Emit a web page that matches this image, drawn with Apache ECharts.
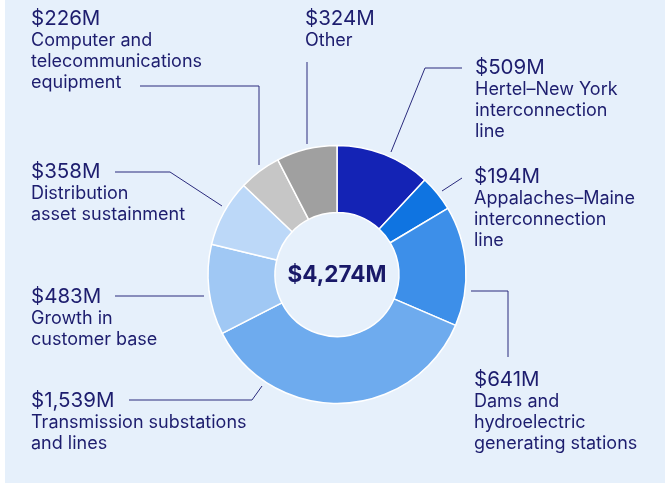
<!DOCTYPE html>
<html>
<head>
<meta charset="utf-8">
<script src="https://cdn.jsdelivr.net/npm/echarts@6/dist/echarts.min.js"></script>
<style>
  html, body { margin: 0; padding: 0; background: #fff; }
  .wrap { position: relative; width: 665px; height: 485px; }
  .panel { position: absolute; left: 5px; top: 0; width: 660px; height: 483px; background: #e6f0fb; }
  #chart { position: absolute; left: 0; top: 0; width: 665px; height: 485px; }
</style>
</head>
<body>
<div class="wrap">
  <div class="panel"></div>
  <div id="chart"></div>
</div>
<script>
// data, clockwise from 12 o'clock
const categories = [
  'Hertel–New York\ninterconnection\nline',
  'Appalaches–Maine\ninterconnection\nline',
  'Dams and\nhydroelectric\ngenerating stations',
  'Transmission substations\nand lines',
  'Growth in\ncustomer base',
  'Distribution\nasset sustainment',
  'Computer and\ntelecommunications\nequipment',
  'Other'
];
const values = [509, 194, 641, 1539, 483, 358, 226, 324];
const colors = ['#1423b5', '#0f74e1', '#3d8fe9', '#6eabee', '#a0c8f4', '#bcd8f8', '#c6c6c6', '#a0a0a0'];

// label block top-left corners
const labelPos = [
  [475, 57], [474, 166], [474, 369], [31, 390],
  [31, 286], [31, 161], [31, 8], [305, 8]
];
// leader lines
const leaderLines = [
  [[391, 152], [425, 68], [462, 68]],
  [[442, 191], [462, 178]],
  [[471, 291], [508, 291], [508, 357]],
  [[262, 386], [252, 400], [129, 400]],
  [[204, 296], [115, 296]],
  [[222, 206], [170, 172], [115, 172]],
  [[259, 165], [259, 86], [140, 86]],
  [[307, 144], [307, 62]]
];

const textColor = '#1d1d6e';
const fmt = v => '$' + v.toLocaleString('en-US') + 'M';
const total = values.reduce((a, b) => a + b, 0);

const chart = echarts.init(document.getElementById('chart'));
const option = {
  animation: false,
  textStyle: { fontFamily: 'Inter' },
  graphic: [{
    type: 'text',
    x: 337,
    y: 275,
    style: {
      text: fmt(total),
      fontFamily: 'Inter',
      fontSize: 22.5,
      fontWeight: 'bold',
      fill: '#191968',
      align: 'center',
      verticalAlign: 'middle'
    }
  }],
  series: [{
    type: 'pie',
    center: [337, 274.5],
    radius: [62, 129],
    startAngle: 90,
    clockwise: true,
    avoidLabelOverlap: false,
    itemStyle: { borderColor: '#ffffff', borderWidth: 1.5 },
    data: values.map((v, i) => ({ name: categories[i], value: v, itemStyle: { color: colors[i] } })),
    label: {
      show: true,
      formatter: p => '{v|' + fmt(p.value) + '}\n{d|' + p.name + '}',
      rich: {
        v: { fontFamily: 'Inter', fontSize: 20.5, lineHeight: 22, color: textColor },
        d: { fontFamily: 'Inter', fontSize: 18, lineHeight: 21, color: textColor }
      }
    },
    labelLine: {
      show: true,
      smooth: false,
      lineStyle: { color: '#2a2a7c', width: 1 }
    },
    labelLayout: function (params) {
      const i = params.dataIndex;
      return {
        x: labelPos[i][0],
        y: labelPos[i][1],
        align: 'left',
        verticalAlign: 'top',
        labelLinePoints: leaderLines[i]
      };
    }
  }]
};
chart.setOption(option);
</script>
</body>
</html>
